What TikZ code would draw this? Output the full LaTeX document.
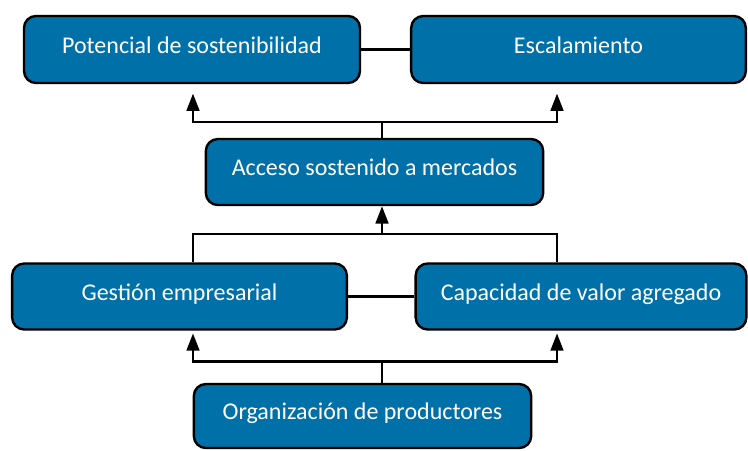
\documentclass[tikz,border=0pt]{standalone}
\usepackage{fontspec}
\setmainfont{Carlito}
\usetikzlibrary{arrows.meta}
\definecolor{cajaazul}{RGB}{0,112,168}
\begin{document}
\begin{tikzpicture}[x=.75pt,y=-.75pt,
caja/.style={draw=black,line width=1.8pt,fill=cajaazul,rounded corners=9pt,
text=white,font=\fontsize{18}{20}\selectfont,inner sep=0pt,
text height=13.5pt,text depth=8pt,minimum height=49.5pt},
linea/.style={line width=2pt},
flecha/.style={line width=2pt,-{Triangle[length=13pt,width=9.5pt]}}]
\useasboundingbox (0,0) rectangle (748,450);
\coordinate (izq) at (193,0);
\coordinate (cen) at (382,0);
\coordinate (der) at (557,0);
\coordinate (nivA) at (0,122);
\coordinate (nivB) at (0,234);
\coordinate (nivC) at (0,361.5);
\node[caja,minimum width=252pt,minimum height=50.25pt] (pot) at (192,49.5) {Potencial de sostenibilidad};
\node[caja,minimum width=251pt,minimum height=50.25pt] (esc) at (578.5,49.5) {Escalamiento};
\node[caja,minimum width=253pt] (acc) at (374.5,172) {Acceso sostenido a mercados};
\node[caja,minimum width=251pt] (ges) at (179.5,296.5) {Gestión empresarial};
\node[caja,minimum width=248pt] (cap) at (581,296.5) {Capacidad de valor agregado};
\node[caja,minimum width=253pt,minimum height=48pt] (org) at (362.5,416) {Organización de productores};
\draw[linea] (pot) -- (esc);
\draw[linea] (ges.east) -- (ges.east -| cap.west);
\draw[flecha,shorten >=7pt] (acc.north -| cen) |- (nivA -| izq) -- (pot.south -| izq);
\draw[flecha,shorten >=7pt] (acc.north -| cen) |- (nivA -| der) -- (esc.south -| der);
\draw[linea] (ges.north -| izq) |- (nivB -| der) -- (cap.north -| der);
\draw[flecha] (nivB -| cen) -- (acc.south -| cen);
\draw[flecha,shorten >=2pt] (org.north -| cen) |- (nivC -| izq) -- (ges.south -| izq);
\draw[flecha,shorten >=2pt] (org.north -| cen) |- (nivC -| der) -- (cap.south -| der);
\end{tikzpicture}
\end{document}
